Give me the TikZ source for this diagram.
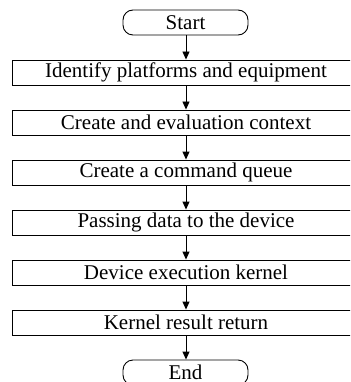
\documentclass[tikz,border=0pt]{standalone}
\usepackage{fontspec}
\setmainfont{Liberation Serif}
\usetikzlibrary{arrows.meta}
\begin{document}
\begin{tikzpicture}[x=1pt,y=1pt,
  font=\fontsize{21}{24}\selectfont,
  stepbox/.style={draw, line width=0.9pt, minimum width=348pt, minimum height=25pt,
    inner sep=0pt, anchor=center},
  termbox/.style={draw, line width=0.9pt, rounded corners=10pt, minimum width=125pt,
    minimum height=25pt, inner sep=0pt, anchor=center},
  flow/.style={line width=0.9pt, -{Triangle[width=7pt,length=8pt]}}]
  \useasboundingbox (0,0) rectangle (350,-382);
  \clip (0,0) rectangle (350,-382);
  \node[termbox] (start) at (185.5,-22.5) {Start};
  \node[stepbox] (s1) at (186,-72.5) {Identify platforms and equipment};
  \node[stepbox] (s2) at (186,-122.5) {Create and evaluation context};
  \node[stepbox] (s3) at (186,-172.5) {Create a command queue};
  \node[stepbox] (s4) at (186,-222.5) {Passing data to the device};
  \node[stepbox] (s5) at (186,-272.5) {Device execution kernel};
  \node[stepbox] (s6) at (186,-322.5) {Kernel result return};
  \node[termbox] (end) at (185.5,-372.5) {End};
  \draw[flow] (start.south -| s1.north) -- (s1.north);
  \draw[flow] (s1) -- (s2);
  \draw[flow] (s2) -- (s3);
  \draw[flow] (s3) -- (s4);
  \draw[flow] (s4) -- (s5);
  \draw[flow] (s5) -- (s6);
  \draw[flow] (s6.south) -- (end.north -| s6.south);
\end{tikzpicture}
\end{document}
